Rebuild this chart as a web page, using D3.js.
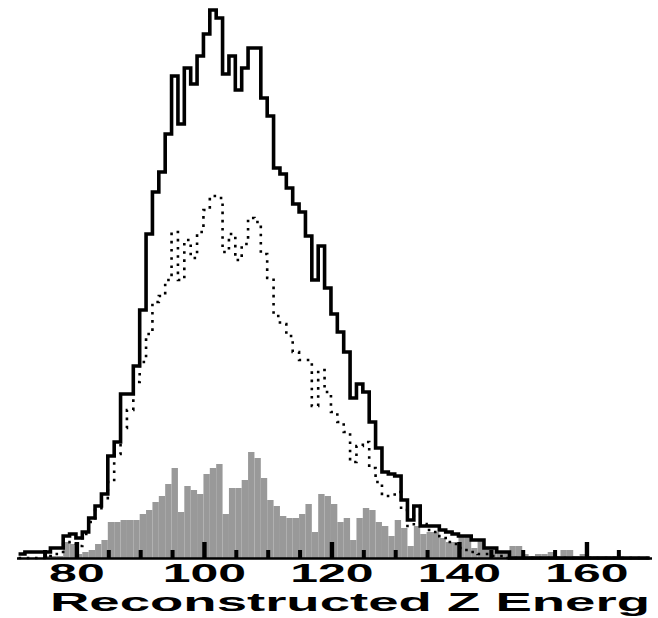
<!DOCTYPE html>
<html>
<head>
<meta charset="utf-8">
<script src="https://cdn.jsdelivr.net/npm/d3@7"></script>
<style>
  html, body { margin: 0; padding: 0; background: #ffffff; }
  svg { display: block; }
</style>
</head>
<body>
<svg id="chart" width="658" height="618"></svg>
<script>
// Bin lower edges (GeV), 1 GeV wide bins from 71 to 170
const binEdges = d3.range(71, 171);

// Total (solid line), bins 71..169
const total = [
    2, 3, 3, 3, 3, 5, 5, 11, 12, 10,
    13, 20, 26, 32, 51, 58, 82, 82, 96, 124,
    162, 183, 193, 212, 241, 217, 245, 237, 251, 262,
    274, 270, 242, 251, 234, 245, 255, 255, 230, 221,
    195, 192, 185, 177, 173, 161, 139, 156, 135, 122,
    113, 103, 80, 87, 83, 68, 55, 43, 42, 41,
    29, 19, 26, 16, 16, 16, 14, 13, 12, 11,
    11, 9, 9, 5, 5, 3, 3, 0, 0, 0,
    0, 0, 0, 0, 0, 0, 0, 0, 0, 0,
    0, 0, 0, 0, 0, 0, 0, 0, 0
];

// Signal (dotted line), bins 71..169
const signal = [
    0, 0, 0, 0, 0, 1, 3, 7, 8, 6,
    12, 18, 24, 29, 38, 52, 65, 74, 88, 98,
    112, 128, 131, 139, 163, 139, 159, 150, 163, 174,
    181, 180, 153, 162, 149, 157, 170, 168, 152, 140,
    121, 117, 111, 103, 99, 99, 76, 94, 83, 73,
    68, 63, 48, 56, 58, 45, 38, 31, 31, 33,
    24, 16, 26, 17, 14, 13, 10, 8, 7, 5,
    4, 3, 2, 2, 1, 1, 0, 0, 0, 0,
    0, 0, 0, 0, 0, 0, 0, 0, 0, 0,
    0, 0, 0, 0, 0, 0, 0, 0, 0
];

// Background (grey bars), bins 71..169
const background = [
    0, 0, 0, 0, 1, 1, 1, 8, 7, 2,
    3, 4, 7, 9, 18, 18, 19, 19, 19, 22,
    24, 28, 31, 37, 45, 23, 36, 34, 32, 42,
    45, 47, 22, 35, 35, 39, 53, 50, 40, 29,
    26, 21, 20, 20, 22, 27, 13, 32, 31, 27,
    18, 20, 9, 20, 25, 24, 18, 16, 11, 19,
    15, 6, 16, 12, 13, 13, 10, 8, 8, 11,
    11, 5, 9, 5, 5, 3, 3, 6, 6, 2,
    1, 2, 2, 3, 1, 4, 4, 1, 2, 1,
    1, 1, 1, 1, 0, 0, 0, 0, 0
];

const majorTicks = [80, 100, 120, 140, 160];
const minorTicks = [75, 85, 90, 95, 105, 110, 115, 125, 130, 135, 145, 150, 155, 165];
const xTitle = 'Reconstructed Z Energ';

const svg = d3.select('#chart');
const font = '"Liberation Sans", Arial, sans-serif';

// The whole picture is drawn twice as wide as it is tall
const g = svg.append('g').attr('transform', 'scale(2,1)');

const x = d3.scaleLinear().domain([70.6, 170.2]).range([8, 325.5]);
const y = d3.scaleLinear().domain([0, 279]).range([558, 0]);

// Grey background bars
g.selectAll('rect.bg')
    .data(background.map((v, i) => ({ lo: binEdges[i], hi: binEdges[i + 1], v })).filter(d => d.v > 0))
    .join('rect')
    .attr('class', 'bg')
    .attr('x', d => x(d.lo))
    .attr('width', d => x(d.hi) - x(d.lo))
    .attr('y', d => y(d.v))
    .attr('height', d => y(0) - y(d.v))
    .attr('fill', '#999999');

// Step line helper
const step = d3.line()
    .x(d => x(d[0]))
    .y(d => y(d[1]))
    .curve(d3.curveStepAfter);
const points = vals => vals.map((v, i) => [binEdges[i], v])
    .concat([[binEdges[vals.length], vals[vals.length - 1]]]);

// Dotted signal line
g.append('path')
    .attr('d', step(points(signal)))
    .attr('fill', 'none')
    .attr('stroke', '#000000')
    .attr('stroke-width', 2.6)
    .attr('vector-effect', 'non-scaling-stroke')
    .attr('stroke-dasharray', '2.6,5.6');

// Solid total line
g.append('path')
    .attr('d', step(points(total)))
    .attr('fill', 'none')
    .attr('stroke', '#000000')
    .attr('stroke-width', 3.6)
    .attr('vector-effect', 'non-scaling-stroke');

// Minor ticks
const minorAxis = g.append('g')
    .attr('transform', `translate(0, ${y(0)})`)
    .call(d3.axisBottom(x).tickValues(minorTicks).tickSize(-8).tickFormat(''));
minorAxis.select('.domain').remove();
minorAxis.selectAll('.tick line').attr('stroke-width', 2);

// Major ticks, labels and axis line
const majorAxis = g.append('g')
    .attr('transform', `translate(0, ${y(0)})`)
    .call(d3.axisBottom(x).tickValues(majorTicks).tickSize(-16).tickSizeOuter(0).tickPadding(6));
majorAxis.select('.domain').attr('stroke-width', 2.5);
majorAxis.selectAll('.tick line').attr('stroke-width', 2.2);
majorAxis.selectAll('.tick text')
    .attr('font-family', font)
    .attr('font-size', 25)
    .attr('font-weight', 'bold')
    .attr('fill', '#000000');

// Axis title, fitted to the visible width
g.append('text')
    .attr('x', 25)
    .attr('y', 611)
    .attr('font-family', font)
    .attr('font-size', 26)
    .attr('font-weight', 'bold')
    .attr('fill', '#000000')
    .attr('textLength', 300)
    .attr('lengthAdjust', 'spacingAndGlyphs')
    .text(xTitle);
</script>
</body>
</html>
